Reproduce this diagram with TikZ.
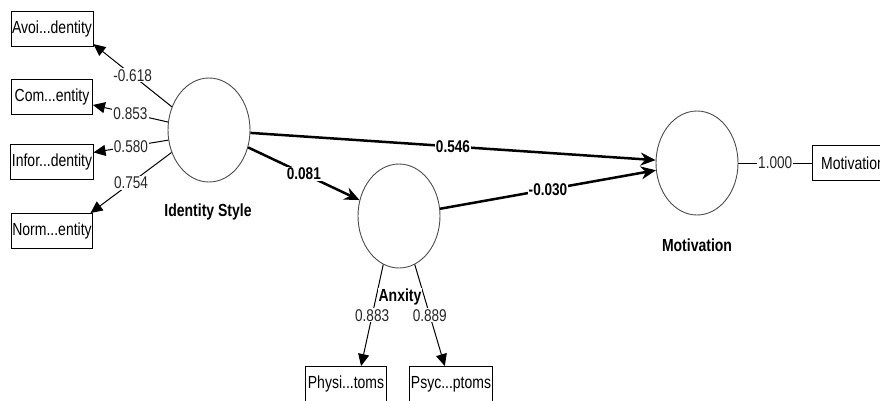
\documentclass[tikz,border=0pt]{standalone}
\usepackage{fontspec}
\setmainfont[FakeStretch=0.8]{Liberation Sans}
\usetikzlibrary{shapes.geometric,arrows.meta}
\tikzset{
  latent/.style={draw=black!70, line width=0.9pt, ellipse, minimum width=82pt, minimum height=104pt, inner sep=0pt},
  indicator/.style={draw, line width=0.9pt, rectangle, minimum width=81pt, minimum height=35pt, inner sep=1pt, font=\fontsize{17.5}{19}\selectfont},
  lab/.style={font=\fontsize{17.5}{19}\selectfont\bfseries},
  loading/.style={line width=1pt, -{Triangle[length=12pt,width=11pt]}},
  pathc/.style={line width=2.5pt, -{Stealth[length=15pt,width=13pt]}},
  wt/.style={fill=white, inner sep=1pt, text=black!85, font=\fontsize{17}{19}\selectfont},
  bwt/.style={wt, text=black, font=\fontsize{17}{19}\selectfont\bfseries}
}
\begin{document}
\begin{tikzpicture}[x=1pt, y=-1pt]
\useasboundingbox (0,0) rectangle (880,400);
% latent variables
\node[latent] (is) at (209,130) {};
\node[latent] (anx) at (399,216) {};
\node[latent] (mot) at (697,163) {};
\node[lab] (islab) at (208,212) {Identity Style};
\node[lab] (motlab) at (697,245) {Motivation};
% indicators
\node[indicator] (avoi) at (52,29) {Avoi...dentity};
\node[indicator] (com) at (52,97) {Com...entity};
\node[indicator] (infor) at (52,162) {Infor...dentity};
\node[indicator] (norm) at (52,231) {Norm...entity};
\node[indicator] (physi) at (346,384) {Physi...toms};
\node[indicator] (psyc) at (451,384) {Psyc...ptoms};
\node[indicator] (motbox) at (853,163) {Motivation};
% outer loadings
\draw[loading] (is.148) -- node[wt] {-0.618} (avoi.-20);
\draw[loading] (is.169) -- node[wt] {0.853} (com.-11);
\draw[loading] (is.194) -- node[wt] {0.580} (infor.13);
\draw[loading] (is.211) -- node[wt] {0.754} (norm.25);
\draw[loading] (anx.-108) -- node[wt] {0.883} (physi.50);
\draw[loading] (anx.-72) -- node[wt] {0.889} (psyc.109);
\draw[line width=1pt] (mot.east) -- node[wt] {1.000} (motbox.west);
\node[lab, fill=white, inner sep=1pt] (anxlab) at (400,297) {Anxity};
% path coefficients
\draw[pathc] (is.-4) -- node[bwt] {0.546} (mot.176);
\draw[pathc] (is.-24) -- node[bwt] {0.081} (anx.158);
\draw[pathc] (anx.10) -- node[bwt] {-0.030} (mot.190);
\end{tikzpicture}
\end{document}
